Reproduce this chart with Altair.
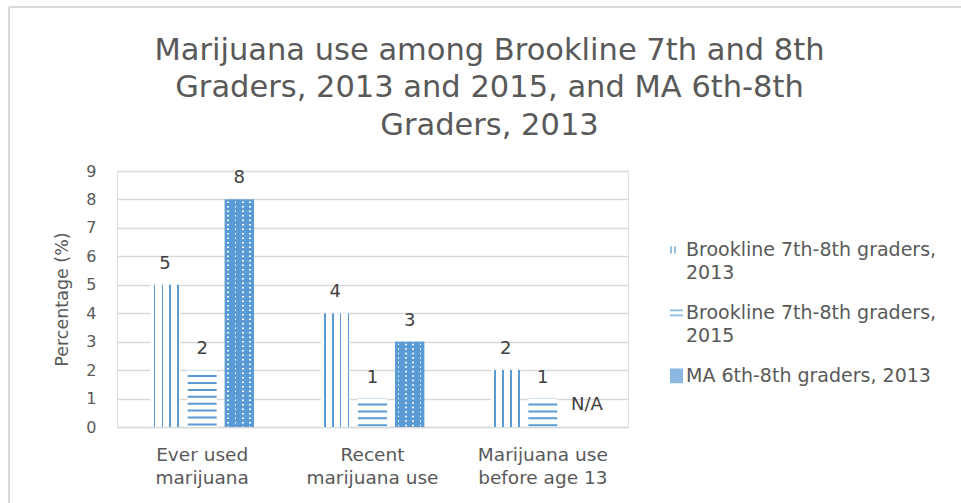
import altair as alt
import pandas as pd

categories = ["Ever used\nmarijuana", "Recent\nmarijuana use", "Marijuana use\nbefore age 13"]
series = ["Brookline 7th-8th graders,\n2013", "Brookline 7th-8th graders,\n2015", "MA 6th-8th graders, 2013"]
brookline_2013 = [5, 4, 2]
brookline_2015 = [2, 1, 1]
ma_2013 = [8, 3, None]

rows = []
for s, vals in zip(series, [brookline_2013, brookline_2015, ma_2013]):
    for c, v in zip(categories, vals):
        rows.append({"cat": c, "series": s, "value": v,
                     "ypos": 0 if v is None else v,
                     "label": "N/A" if v is None else str(v)})
df = pd.DataFrame(rows)

BLUE = "#5B9BD5"
GREY = "#595959"
FONT = "DejaVu Sans"
CLEAR = "rgba(255,255,255,0)"

x_enc = alt.X("cat:N", sort=categories, title=None,
              scale=alt.Scale(paddingInner=0, paddingOuter=0),
              axis=alt.Axis(labelExpr="split(datum.label, '\\n')", labelAngle=0,
                            labelFontSize=18.5, labelColor=GREY, labelFont=FONT,
                            labelPadding=18, labelLineHeight=23, ticks=False,
                            domainColor="#D9D9D9", domainWidth=1.5, grid=False))
xo_enc = alt.XOffset("series:N", sort=series,
                     scale=alt.Scale(paddingInner=0.216, paddingOuter=0.9))
y_scale = alt.Scale(domain=[0, 9])
y_axis = alt.Axis(values=list(range(10)), labelFontSize=16, labelColor=GREY, labelFont=FONT,
                  labelPadding=21, ticks=False, domain=False, gridColor="#D9D9D9",
                  gridWidth=1.3, title="Percentage (%)", titleFontSize=17.5,
                  titleFont=FONT, titleColor=GREY, titleFontWeight="normal", titlePadding=14)
y_enc = alt.Y("value:Q", scale=y_scale, axis=y_axis)
y_lab = alt.Y("ypos:Q", scale=y_scale, axis=y_axis)


def stripes(centers, half, on, off):
    stops = [alt.GradientStop(offset=0, color=off)]
    for c in centers:
        stops += [alt.GradientStop(offset=c - half, color=off),
                  alt.GradientStop(offset=c - half, color=on),
                  alt.GradientStop(offset=c + half, color=on),
                  alt.GradientStop(offset=c + half, color=off)]
    stops.append(alt.GradientStop(offset=1, color=off))
    return alt.Gradient(gradient="linear", stops=stops, x1=0, x2=1, y1=0, y2=0)


base = alt.Chart(df)
layers = []

# series 1: vertical stripes
s1 = base.transform_filter(alt.datum.series == series[0])
layers.append(s1.mark_bar(color=stripes([0.14, 0.41, 0.68, 0.95], 0.03, BLUE, "white")).encode(
    x=x_enc, xOffset=xo_enc, y=y_enc, y2=alt.datum(0)))

# series 2: horizontal stripes
s2 = base.transform_filter(alt.datum.series == series[1])
layers.append(s2.mark_bar(color="white").encode(
    x=x_enc, xOffset=xo_enc, y=y_enc, y2=alt.datum(0)))
layers.append(s2.mark_rule(color=BLUE, strokeWidth=29, strokeDash=[2, 4.9], strokeDashOffset=-5,
                           strokeCap="butt").encode(
    x=x_enc, xOffset=xo_enc, y=y_enc, y2=alt.datum(0)))

# series 3: dotted fill
s3 = base.transform_filter((alt.datum.series == series[2]) & (alt.datum.value != None))
layers.append(s3.mark_bar(color=BLUE).encode(
    x=x_enc, xOffset=xo_enc, y=y_enc, y2=alt.datum(0)))
layers.append(s3.mark_rule(color="white", strokeWidth=27, strokeDash=[1.5, 3], strokeDashOffset=-2,
                           strokeCap="butt").encode(
    x=x_enc, xOffset=xo_enc, y=y_enc, y2=alt.datum(0)))
layers.append(s3.mark_bar(color=stripes([0.12, 0.37, 0.62, 0.87], 0.028, CLEAR, BLUE)).encode(
    x=x_enc, xOffset=xo_enc, y=y_enc, y2=alt.datum(0)))

# data labels
lab = base.transform_filter(alt.datum.label != "N/A")
layers.append(lab.mark_text(dy=-16, baseline="alphabetic", fontSize=18, color="#404040",
                            font=FONT).encode(
    x=x_enc, xOffset=xo_enc, y=y_lab, text="label:N"))
na = base.transform_filter(alt.datum.label == "N/A")
layers.append(na.mark_text(dy=-17, dx=7, baseline="alphabetic", fontSize=18, color="#404040",
                           font=FONT).encode(
    x=x_enc, xOffset=xo_enc, y=y_lab, text="label:N"))

# legend
sq = "".join(f"M-1,{0.45 + 0.2 * i:.2f}L1,{0.45 + 0.2 * i:.2f}" for i in range(11))
legend_paths = ["M-0.85,0.9L-0.85,2.0M-0.23,0.9L-0.23,2.0",
                "M-1,1.07L1,1.07M-1,1.83L1,1.83",
                sq]
layers.append(base.transform_filter("false").mark_point(filled=False, color=BLUE).encode(
    shape=alt.Shape("series:N", sort=series,
                    scale=alt.Scale(domain=series, range=legend_paths),
                    legend=alt.Legend(title=None, orient="none", legendX=550, legendY=60,
                                      labelExpr="split(datum.label, '\\n')",
                                      labelFontSize=19, labelColor=GREY, labelFont=FONT,
                                      labelLimit=0, labelBaseline="top", labelOffset=0,
                                      symbolSize=169, symbolStrokeColor=BLUE,
                                      symbolStrokeWidth=1.8,
                                      rowPadding=11, padding=0))))

# chart border
border = pd.DataFrame({"k": [0]})
layers.append(alt.Chart(border).mark_rule(color="#D9D9D9", strokeWidth=2).encode(
    x=alt.value(-108), x2=alt.value(844), y=alt.value(-164)))
layers.append(alt.Chart(border).mark_rule(color="#D9D9D9", strokeWidth=2).encode(
    x=alt.value(-108), y=alt.value(-164), y2=alt.value(332)))

chart = alt.layer(*layers).properties(
    width=511, height=256,
    autosize=alt.AutoSizeParams(type="none"),
    padding={"left": 117, "top": 171, "right": 333, "bottom": 76},
    title=alt.TitleParams(text=["Marijuana use among Brookline 7th and 8th",
                                "Graders, 2013 and 2015, and MA 6th-8th",
                                "Graders, 2013"],
                          fontSize=30.5, font=FONT, color=GREY, fontWeight="normal",
                          anchor="middle", frame="group", dx=117, lineHeight=37.5, offset=-135),
).configure_view(strokeWidth=0).configure(
    background="white", style={"guide-label": {"lineHeight": 23}})

chart.save("out.html", embed_options={"renderer": "svg", "actions": False})
